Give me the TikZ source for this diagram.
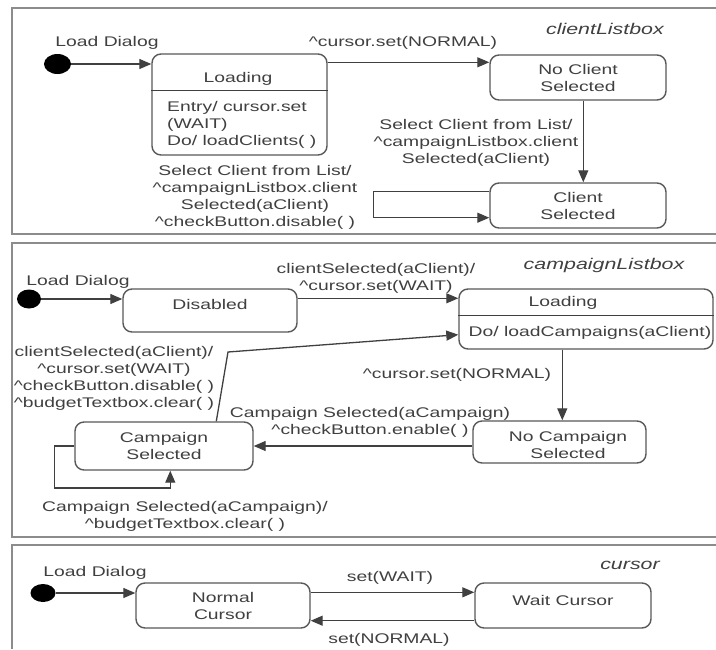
\documentclass[tikz,border=0pt]{standalone}
\usepackage{fontspec}
\setmainfont[FakeStretch=1.38]{Liberation Sans}
\usetikzlibrary{arrows.meta,calc,shapes.geometric}
\newcommand\crt{\textasciicircum}
\begin{document}
\begin{tikzpicture}[x=1pt,y=-1pt,
  every node/.style={font=\fontsize{14}{17}\selectfont},
  frame/.style={draw=black!45, line width=2pt},
  st/.style={draw=black!65, line width=1.4pt, rounded corners=9pt, inner sep=0pt, align=center, text=black!75},
  tx/.style={inner sep=0pt, align=center, text=black!75},
  arr/.style={draw=black!75, line width=1.3pt, -{Triangle[length=12pt,width=10pt]}},
  ln/.style={draw=black!75, line width=1.3pt},
  startdot/.style={ellipse, fill=black, minimum width=27pt, minimum height=20pt, inner sep=0pt},
  ttl/.style={inner sep=0pt, text=black!75, font=\fontsize{15.5}{17}\selectfont\itshape}]
\useasboundingbox (0,0) rectangle (716,649);
\fill[white] (0,0) rectangle (716,649);

% frames
\draw[frame] (716,8) -- (12,8) -- (12,234) -- (716,234);
\draw[frame] (716,243) -- (12,243) -- (12,537) -- (716,537);
\draw[frame] (716,545) -- (12,545) -- (12,649);

% ---------- panel 1: clientListbox ----------
\node[ttl] (t1) at (605,29) {clientListbox};
\node[startdot] (d1) at (57.5,64) {};
\node[tx] (l1) at (107,43) {Load Dialog};
\node[st, minimum width=175pt, minimum height=101pt] (ld1) at (239.5,104.5) {};
\draw[ln] ($(ld1.north west)+(0,37)$) -- ($(ld1.north east)+(0,37)$);
\node[tx] (ld1n) at (238,79) {Loading};
\node[tx, anchor=west, align=left] (ld1c) at (167,125) {Entry/ cursor.set\\(WAIT)\\Do/ loadClients( )};
\node[st, minimum width=176pt, minimum height=45pt] (nc) at (578,77.5) {No Client\\Selected};
\node[st, minimum width=176pt, minimum height=45pt] (cs) at (578,205.5) {Client\\Selected};

\draw[arr] (d1.east) -- (d1.east -| ld1.west);
\draw[arr] ($(ld1.north east)+(0,9)$) -- ($(nc.north west)+(0,8)$);
\node[tx] (tr1) at (403,43) {\crt cursor.set(NORMAL)};
\draw[arr] ($(nc.south west)+(94,0)$) -- ($(cs.north west)+(94,0)$);
\node[tx] (tr2) at (476,143) {Select Client from List/\\\crt campaignListbox.client\\Selected(aClient)};
\draw[arr] ($(cs.north west)+(0,9)$) -- ++(-116,0) |- ($(cs.south west)+(0,-11)$);
\node[tx] (tr3) at (255,197) {Select Client from List/\\\crt campaignListbox.client\\Selected(aClient)\\\crt checkButton.disable( )};

% ---------- panel 2: campaignListbox ----------
\node[ttl] (t2) at (604,265) {campaignListbox};
\node[startdot, minimum width=24pt, minimum height=19pt] (d2) at (29,299) {};
\node[tx] (l2) at (78,282) {Load Dialog};
\node[st, minimum width=174pt, minimum height=43pt, label={[tx,yshift=6pt]center:Disabled}] (dis) at (210,310.5) {};
\node[st, minimum width=254pt, minimum height=60pt] (ld2) at (586,319) {};
\draw[ln] ($(ld2.north west)+(0,27)$) -- ($(ld2.north east)+(0,27)$);
\node[tx] (ld2n) at (563,303) {Loading};
\node[tx] (ld2c) at (590,333) {Do/ loadCampaigns(aClient)};
\node[st, minimum width=173pt, minimum height=42pt] (ncp) at (559.5,442) {};
\node[tx] (ncpt) at (568,445) {No Campaign\\Selected};
\node[st, minimum width=178pt, minimum height=48pt] (cmp) at (164,446) {Campaign\\Selected};

\draw[arr] (d2.east) -- (d2.east -| dis.west);
\draw[arr] ($(dis.north east)+(0,10)$) -- ($(ld2.north west)+(0,10)$);
\node[tx] (tr4) at (376,278) {clientSelected(aClient)/\\\crt cursor.set(WAIT)};
\draw[arr] ($(ld2.south west)+(104,0)$) -- ($(ncp.north west)+(90,0)$);
\node[tx] (tr5) at (457,375) {\crt cursor.set(NORMAL)};
\draw[arr] (cmp.east -| ncp.west) -- (cmp.east);
\node[tx] (tr6) at (370,422) {Campaign Selected(aCampaign)\\\crt checkButton.enable( )};
\coordinate (bend) at (228,352);
\draw[arr] ($(cmp.north west)+(142,0)$) -- (bend) -- ($(ld2.south west)+(0,-15)$);
\node[tx] (tr7) at (114,378) {clientSelected(aClient)/\\\crt cursor.set(WAIT)\\\crt checkButton.disable( )\\\crt budgetTextbox.clear( )};
\draw[arr] (cmp.west) -- ++(-20,0) -- ++(0,42) -| ($(cmp.south west)+(96,0)$);
\node[tx] (tr8) at (185,516) {Campaign Selected(aCampaign)/\\\crt budgetTextbox.clear( )};

% ---------- panel 3: cursor ----------
\node[ttl] (t3) at (630,565) {cursor};
\node[startdot, minimum width=25pt, minimum height=18pt] (d3) at (43,593) {};
\node[tx] (l3) at (95,573) {Load Dialog};
\node[st, minimum width=174pt, minimum height=45pt] (nrm) at (223,605.5) {Normal\\Cursor};
\node[st, minimum width=176pt, minimum height=45pt, label={[tx,yshift=5pt]center:Wait Cursor}] (wc) at (563,605.5) {};
\draw[arr] (d3.east) -- (d3.east -| nrm.west);
\draw[arr] ($(nrm.north east)+(0,10)$) -- ($(wc.north west)+(0,10)$);
\node[tx] (tr9) at (390,578) {set(WAIT)};
\draw[arr] ($(wc.south west)+(0,-8)$) -- ($(nrm.south east)+(0,-8)$);
\node[tx] (tr10) at (389,640) {set(NORMAL)};
\end{tikzpicture}
\end{document}
